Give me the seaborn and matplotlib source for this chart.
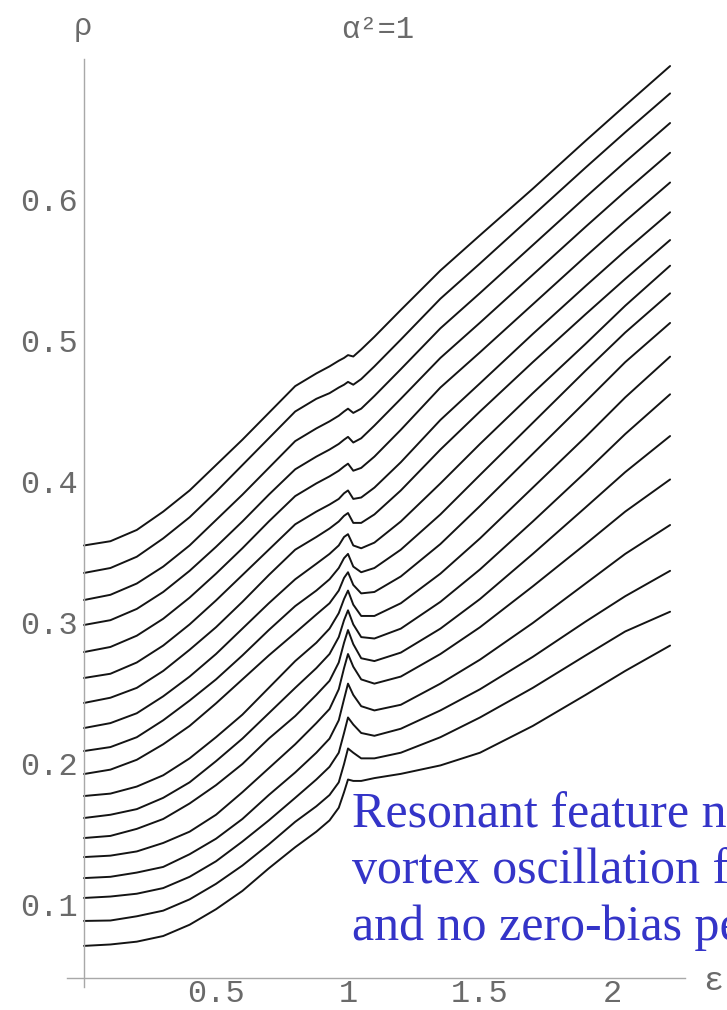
import numpy as np
import pandas as pd
import matplotlib
matplotlib.use("Agg")
import matplotlib.pyplot as plt
import seaborn as sns

# ---------------- data ----------------
energy = [0, 0.1, 0.2, 0.3, 0.4, 0.5, 0.6, 0.7, 0.8, 0.88, 0.93, 0.965, 0.985, 1.0,
          1.02, 1.05, 1.1, 1.2, 1.35, 1.5, 1.7, 1.9, 2.05, 2.22]

rho_01 = [.355, .358, .366, .379, .394, .412, .430, .449, .468, .477, .482, .486, .488, .490, .489, .494, .503, .522, .550, .575, .608, .642, .667, .695]
rho_02 = [.3355, .339, .347, .360, .375, .393, .412, .431, .450, .459, .463, .467, .469, .471, .469, .473, .482, .501, .530, .555, .589, .623, .648, .6756]
rho_03 = [.3163, .320, .328, .340, .355, .373, .391, .410, .429, .438, .443, .447, .450, .452, .449, .452, .461, .480, .509, .534, .568, .602, .627, .6546]
rho_04 = [.2986, .302, .310, .322, .337, .354, .372, .391, .409, .418, .423, .427, .430, .432, .428, .431, .440, .459, .488, .513, .547, .581, .606, .6335]
rho_05 = [.2794, .283, .291, .303, .318, .335, .353, .372, .390, .399, .404, .408, .411, .413, .408, .410, .418, .437, .467, .492, .526, .560, .585, .6124]
rho_06 = [.261, .264, .272, .284, .299, .316, .334, .352, .370, .379, .384, .388, .392, .394, .388, .389, .396, .414, .444, .470, .505, .539, .564, .5913]
rho_07 = [.2433, .247, .254, .266, .281, .297, .315, .334, .352, .361, .367, .372, .376, .378, .371, .371, .377, .394, .423, .450, .485, .519, .544, .5716]
rho_08 = [.2255, .229, .236, .248, .262, .278, .296, .314, .331, .342, .349, .355, .361, .363, .355, .353, .357, .372, .399, .427, .463, .498, .525, .5534]
rho_09 = [.2092, .212, .219, .231, .245, .260, .277, .295, .312, .323, .331, .339, .346, .349, .340, .336, .339, .352, .377, .405, .442, .479, .506, .5338]
rho_10 = [.1929, .196, .203, .214, .227, .243, .260, .277, .293, .306, .314, .323, .332, .336, .327, .321, .322, .333, .356, .383, .420, .457, .485, .5128]
rho_11 = [.1773, .179, .184, .192, .204, .219, .235, .254, .273, .286, .296, .307, .317, .323, .313, .305, .305, .314, .335, .360, .396, .432, .460, .4889]
rho_12 = [.1617, .164, .168, .176, .187, .202, .218, .236, .254, .268, .278, .290, .302, .309, .299, .290, .289, .296, .315, .338, .372, .407, .434, .4622]
rho_13 = [.1475, .149, .154, .161, .172, .185, .200, .218, .234, .249, .259, .272, .286, .295, .285, .275, .273, .279, .296, .317, .349, .382, .407, .4326]
rho_14 = [.134, .135, .138, .144, .152, .164, .180, .197, .214, .229, .239, .253, .268, .278, .269, .260, .257, .262, .278, .297, .326, .356, .379, .4018]
rho_15 = [.1191, .120, .123, .127, .136, .147, .161, .178, .194, .208, .218, .231, .246, .257, .249, .241, .238, .242, .257, .274, .300, .328, .349, .3695]
rho_16 = [.105, .106, .108, .112, .120, .131, .145, .160, .176, .189, .198, .208, .222, .233, .228, .222, .220, .225, .238, .253, .276, .301, .319, .337]
rho_17 = [.0887, .089, .092, .096, .104, .115, .128, .143, .159, .170, .178, .187, .200, .211, .208, .204, .204, .208, .219, .233, .254, .277, .294, .308]
rho_18 = [.071, .072, .074, .078, .086, .097, .110, .126, .141, .152, .160, .169, .180, .189, .188, .188, .190, .193, .199, .208, .227, .249, .266, .284]

x_major_ticks = [0.5, 1, 1.5, 2]
x_major_labels = ["0.5", "1", "1.5", "2"]
y_major_ticks = [0.1, 0.2, 0.3, 0.4, 0.5, 0.6]
y_major_labels = ["0.1", "0.2", "0.3", "0.4", "0.5", "0.6"]

title_text = "α²=1"
y_label_text = "ρ"
x_label_text = "ε"
note_lines = ["Resonant feature near",
              "vortex oscillation frequency",
              "and no zero-bias peak"]

# ---------------- build long table ----------------
all_curves = [rho_01, rho_02, rho_03, rho_04, rho_05, rho_06, rho_07, rho_08, rho_09,
              rho_10, rho_11, rho_12, rho_13, rho_14, rho_15, rho_16, rho_17, rho_18]
frames = []
for i, vals in enumerate(all_curves):
    frames.append(pd.DataFrame({"energy": energy, "rho": vals, "curve": f"c{i+1:02d}"}))
df = pd.concat(frames, ignore_index=True)

# ---------------- figure ----------------
sns.set_style("white")
plt.rcParams["font.family"] = ["Liberation Mono", "DejaVu Sans"]

W, H = 727, 1010
fig = plt.figure(figsize=(W / 100, H / 100), dpi=100)
ax = fig.add_axes([0, 0, 1, 1])

sns.lineplot(data=df, x="energy", y="rho", hue="curve", palette=["#141414"] * len(all_curves),
             estimator=None, sort=False, legend=False, linewidth=1.4, ax=ax)

# pixel mapping: x=0 -> 84 px, 264 px per unit; rho 0.6 -> 200 px, 1410 px per unit
ax.set_xlim(-84 / 264, (W - 84) / 264)
ax.set_ylim(0.6 - (H - 200) / 1410, 0.6 + 200 / 1410)
ax.set_xlabel("")
ax.set_ylabel("")

axis_color = "#a8a8a8"
label_color = "#6a6a6a"
for s in ["top", "right"]:
    ax.spines[s].set_visible(False)
ax.spines["left"].set_position(("data", 0))
ax.spines["bottom"].set_position(("data", 0.0482))
ax.spines["left"].set_bounds(0.0418, 0.70)
ax.spines["bottom"].set_bounds(-0.064, 2.276)
for s in ["left", "bottom"]:
    ax.spines[s].set_color(axis_color)
    ax.spines[s].set_linewidth(1.0)

ax.set_xticks(x_major_ticks)
ax.set_xticklabels(x_major_labels)
ax.set_xticks(np.arange(0.1, 2.25, 0.1), minor=True)
ax.set_yticks(y_major_ticks)
ax.set_yticklabels(y_major_labels)
ax.set_yticks(np.arange(0.06, 0.69, 0.02), minor=True)

ax.tick_params(axis="x", which="both", direction="in", color=axis_color, width=1.0,
               labelsize=23, labelcolor=label_color, pad=0.5)
ax.tick_params(axis="x", which="major", length=3.5)
ax.tick_params(axis="x", which="minor", length=3)
ax.tick_params(axis="y", which="both", direction="out", color=axis_color, width=1.0,
               labelsize=23, labelcolor=label_color, pad=1.5)
ax.tick_params(axis="y", which="major", length=3)
ax.tick_params(axis="y", which="minor", length=2)
ax.grid(False)

fig.text(83 / W, 1 - 27 / H, y_label_text, ha="center", va="center", fontsize=22, color=label_color)
fig.text(378 / W, 1 - 30 / H, title_text, ha="center", va="center", fontsize=22, color=label_color)
fig.text(703 / W, 1 - 982 / H, x_label_text, ha="left", va="center", fontsize=24, color=label_color)

for i, line in enumerate(note_lines):
    fig.text(352 / W, 1 - (827 + 56.5 * i) / H, line, ha="left", va="baseline",
             fontsize=36, family=["Liberation Serif", "DejaVu Serif"], color="#3434c8")

fig.savefig("out.png", dpi=100)
